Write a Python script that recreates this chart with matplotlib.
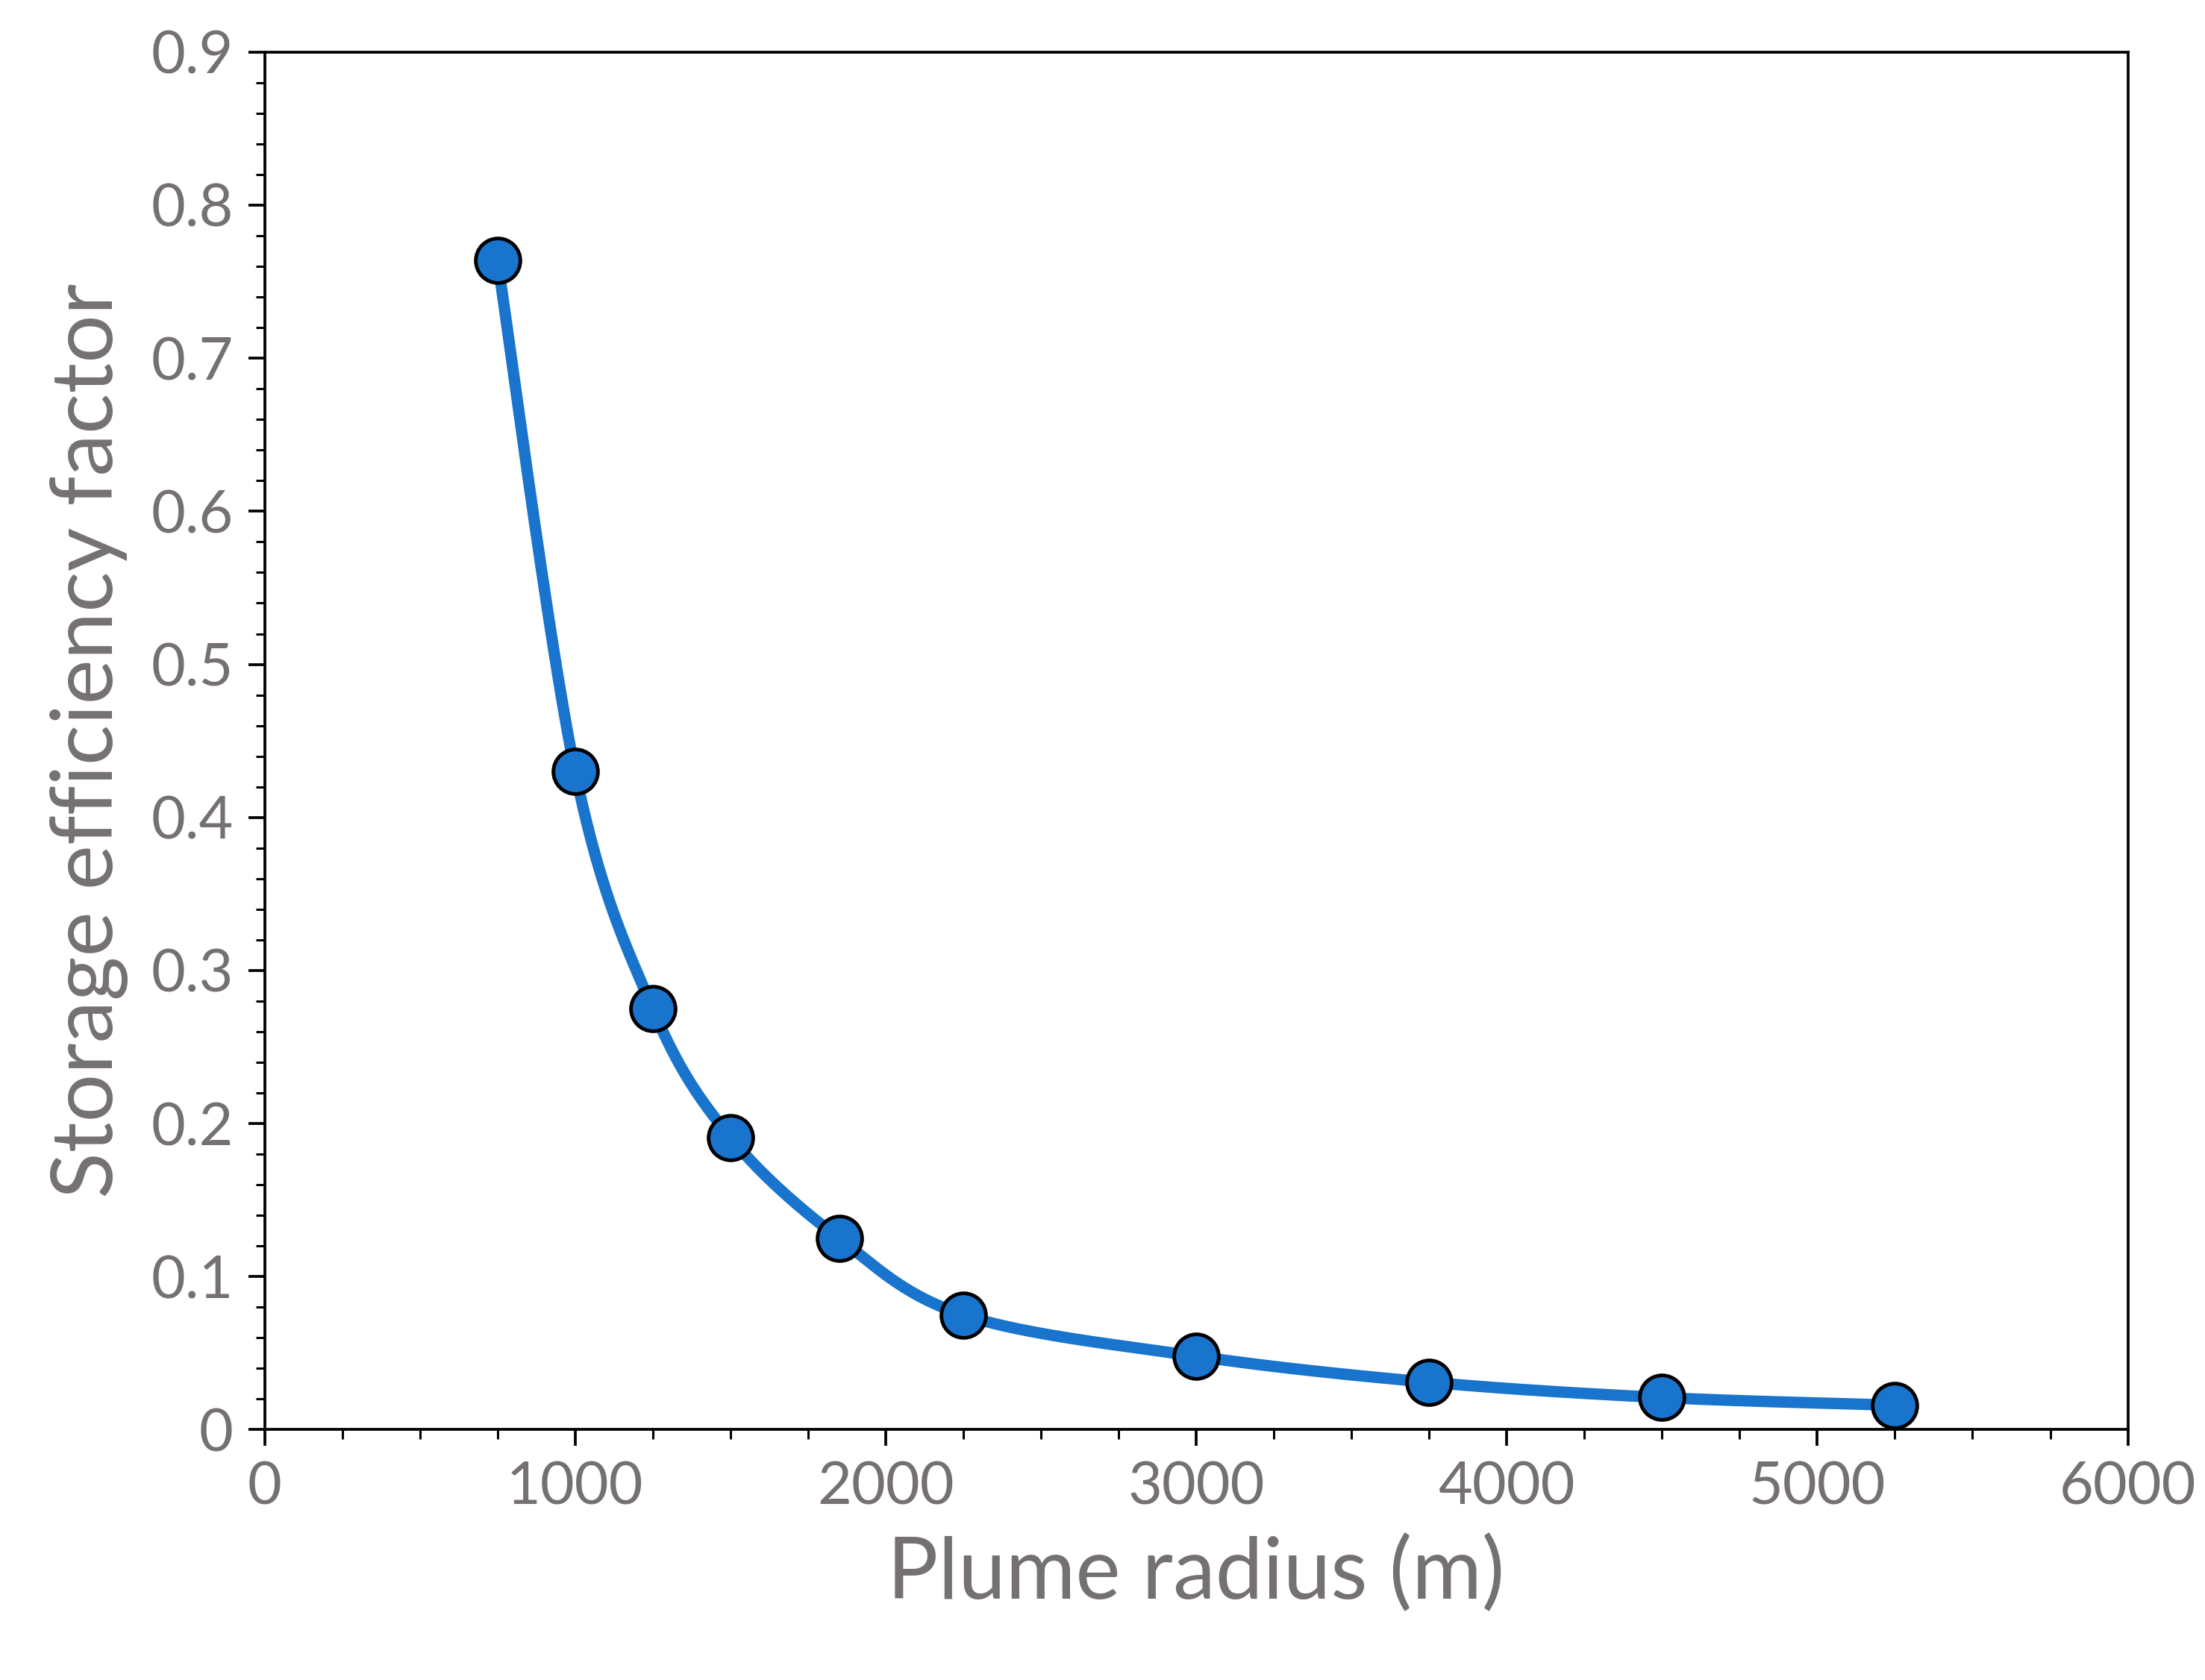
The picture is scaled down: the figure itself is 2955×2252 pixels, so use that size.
import numpy as np
import matplotlib.pyplot as plt
from matplotlib.ticker import MultipleLocator

# data
radius = [750, 1000, 1250, 1500, 1850, 2250, 3000, 3750, 4500, 5250]
efficiency = [0.764, 0.430, 0.275, 0.191, 0.125, 0.075, 0.048, 0.031, 0.021, 0.016]


def catmull_rom(xs, ys, n=40):
    # smooth line through the points, like a spreadsheet "smoothed line"
    px = np.array([xs[0]] + list(xs) + [xs[-1]], float)
    py = np.array([ys[0]] + list(ys) + [ys[-1]], float)
    outx, outy = [], []
    t = np.linspace(0, 1, n)
    for i in range(1, len(px) - 2):
        for p, out in ((px, outx), (py, outy)):
            p0, p1, p2, p3 = p[i - 1], p[i], p[i + 1], p[i + 2]
            out.extend(0.5 * (2 * p1 + (-p0 + p2) * t
                              + (2 * p0 - 5 * p1 + 4 * p2 - p3) * t ** 2
                              + (-p0 + 3 * p1 - 3 * p2 + p3) * t ** 3))
    return outx, outy


plt.rcParams['font.family'] = ['Lato', 'DejaVu Sans']
grey = '#767171'

fig = plt.figure(figsize=(29.55, 22.52), dpi=100)
ax = fig.add_axes([0.12, 0.149, 0.845, 0.82])

sx, sy = catmull_rom(radius, efficiency)
ax.plot(sx, sy, color='#1874CD', lw=11, zorder=2, solid_capstyle='round')
ax.plot(radius, efficiency, 'o', ms=43, mfc='#1874CD', mec='black', mew=3.5, zorder=3)

ax.set_xlim(0, 6000)
ax.set_ylim(0, 0.9)
ax.xaxis.set_major_locator(MultipleLocator(1000))
ax.xaxis.set_minor_locator(MultipleLocator(250))
ax.yaxis.set_major_locator(MultipleLocator(0.1))
ax.yaxis.set_minor_locator(MultipleLocator(0.02))
ax.set_yticks(np.arange(0, 0.91, 0.1))
ax.set_yticklabels(['0'] + [f'{v:.1f}' for v in np.arange(0.1, 0.91, 0.1)])

for s in ax.spines.values():
    s.set_linewidth(2.7)
ax.tick_params(which='major', direction='out', length=16, width=2.7,
               labelsize=57, labelcolor=grey, pad=14)
ax.tick_params(which='minor', direction='out', length=9, width=2.2)

ax.set_xlabel('Plume radius (m)', fontsize=82, color=grey, labelpad=20)
ax.set_ylabel('Storage efficiency factor', fontsize=82, color=grey, labelpad=22)

fig.savefig('out.png', dpi=100)
